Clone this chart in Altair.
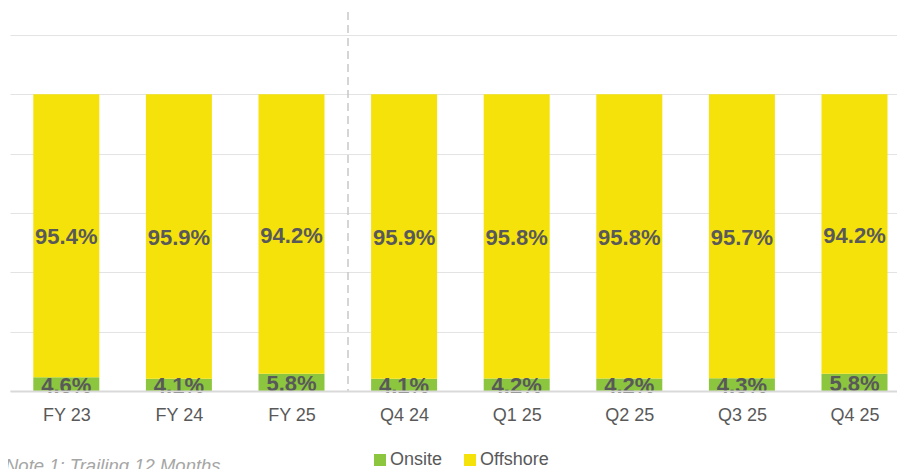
import json
import altair as alt
import pandas as pd

categories = ["FY 23", "FY 24", "FY 25", "Q4 24", "Q1 25", "Q2 25", "Q3 25", "Q4 25"]
onsite = [4.6, 4.1, 5.8, 4.1, 4.2, 4.2, 4.3, 5.8]
offshore = [95.4, 95.9, 94.2, 95.9, 95.8, 95.8, 95.7, 94.2]
series = ["Onsite", "Offshore"]
colors = ["#8CC63F", "#F5E20B"]
note = ["Note 1: Trailing 12 Months"]

rows = []
for i, (c, on, off) in enumerate(zip(categories, onsite, offshore)):
    rows.append({"idx": i, "cat": c, "type": "Onsite", "value": on, "order": 0,
                 "mid": on / 2, "label": f"{on:.1f}%"})
    rows.append({"idx": i, "cat": c, "type": "Offshore", "value": off, "order": 1,
                 "mid": on + off / 2, "label": f"{off:.1f}%"})
df = pd.DataFrame(rows)

FONT = "Liberation Sans"
W = 887
STEP = 112.6  # px per category in the reference

x_scale = alt.Scale(domain=[-0.5, -0.5 + W / STEP], nice=False, zero=False, padding=0)
x_axis = alt.Axis(title=None, labelAngle=0, ticks=False, labelPadding=15,
                  values=list(range(len(categories))),
                  labelExpr=f"{json.dumps(categories)}[datum.value]",
                  labelFlush=False, labelOverlap=False,
                  labelFontSize=18, labelColor="#595959", labelFont=FONT,
                  domainColor="#d9d9d9", domainWidth=2, grid=False, zindex=1)

base = alt.Chart(df)

bars = base.mark_bar(width=66).encode(
    x=alt.X("idx:Q", scale=x_scale, axis=x_axis),
    y=alt.Y("value:Q", stack="zero",
            scale=alt.Scale(domain=[0, 120]),
            axis=alt.Axis(title=None, labels=False, ticks=False, domain=False,
                          values=[0, 20, 40, 60, 80, 100, 120],
                          gridColor="#e3e3e3", gridWidth=1)),
    color=alt.Color("type:N",
                    scale=alt.Scale(domain=series, range=colors),
                    legend=alt.Legend(orient="none", legendX=361, legendY=416,
                                      direction="horizontal", title=None,
                                      symbolType="square", symbolSize=144,
                                      symbolStrokeWidth=0, labelFontSize=18,
                                      labelColor="#595959", labelFont=FONT,
                                      columnPadding=18, labelOffset=1, padding=0)),
    order=alt.Order("order:Q"),
)

labels = base.mark_text(font=FONT, fontWeight="bold", fontSize=22,
                        color="#595959", baseline="middle", dy=1.5).encode(
    x=alt.X("idx:Q", scale=x_scale, axis=x_axis),
    y=alt.Y("mid:Q", stack=None),
    text="label:N",
)

divider = alt.Chart(pd.DataFrame({"d": [0]})).mark_rule(
    strokeDash=[8, 5], color="#c8c8c8", strokeWidth=1.5
).encode(x=alt.value(338), y=alt.value(-23), y2=alt.value(356))

note_txt = alt.Chart(pd.DataFrame({"note": note})).mark_text(
    font=FONT, fontStyle="italic", fontSize=18.5, color="#a6a6a6",
    align="left", baseline="alphabetic"
).encode(x=alt.value(-5), y=alt.value(437), text="note:N")

chart = alt.layer(bars, labels, divider, note_txt).properties(
    width=W, height=356,
    padding={"left": 2, "top": 27, "right": 0, "bottom": 78},
    autosize="none",
).configure_view(stroke=None)

chart.save("out.html", embed_options={"renderer": "svg", "actions": False})
